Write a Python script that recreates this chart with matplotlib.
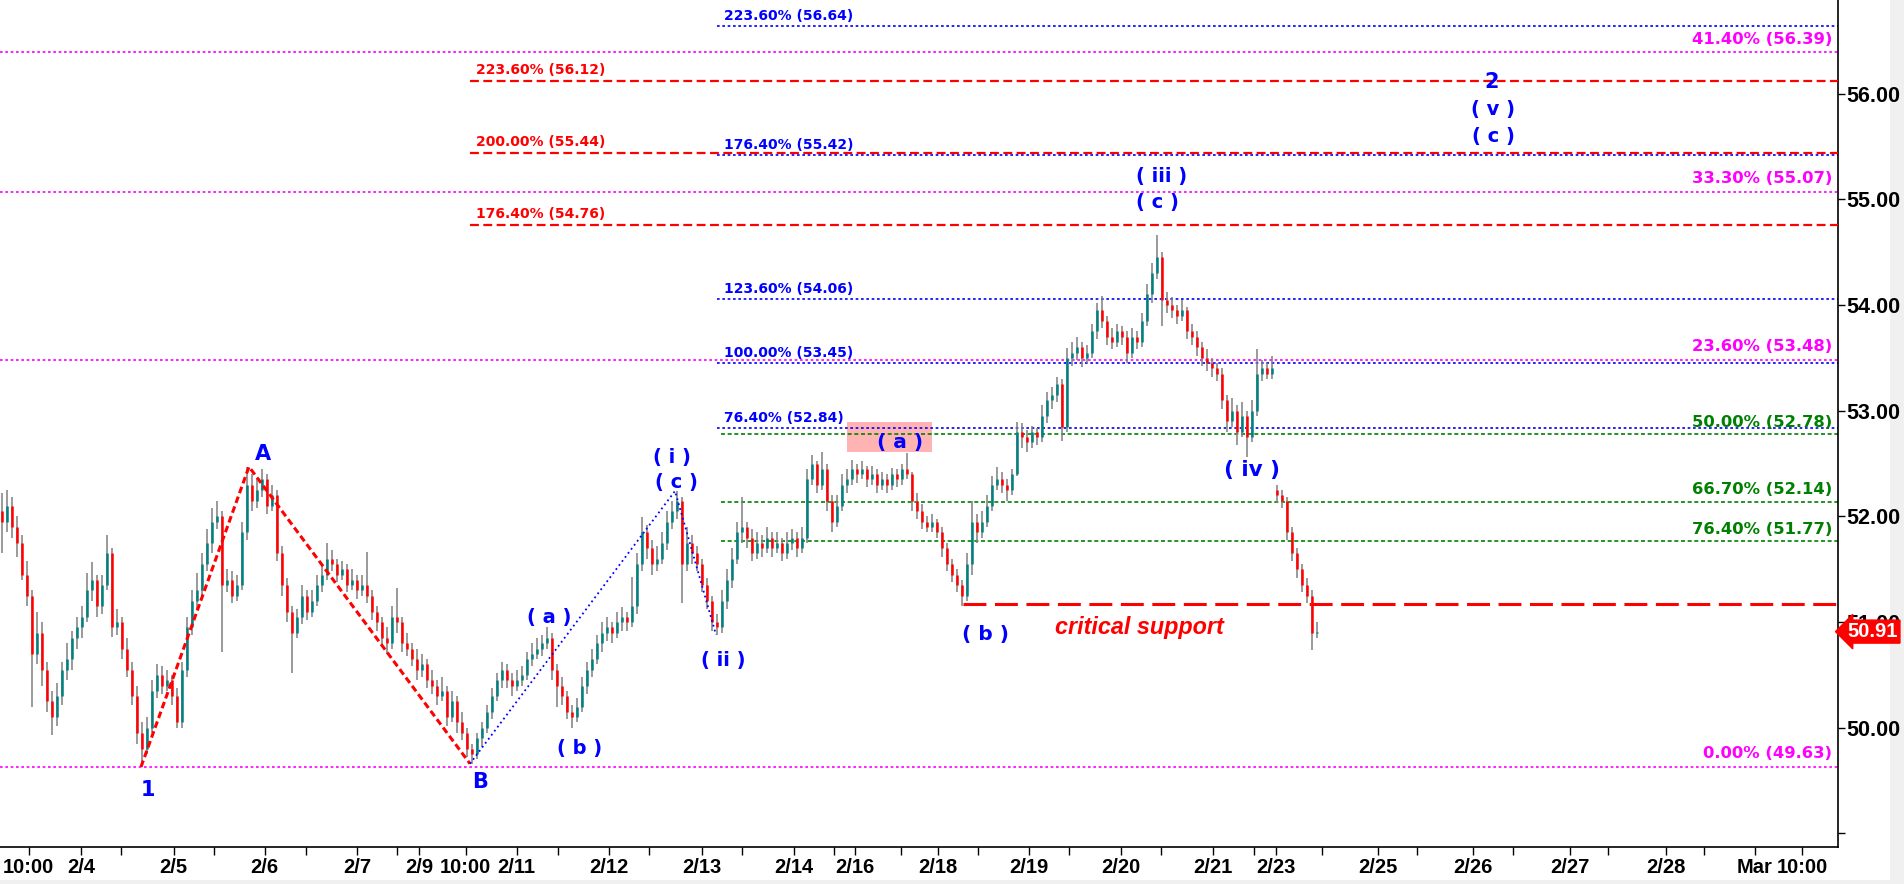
import matplotlib
matplotlib.use("Agg")
import matplotlib.pyplot as plt
import matplotlib.transforms as mtransforms
from matplotlib.patches import Rectangle
import numpy as np

# ---- price bars (one bar per slot) ----
opens = [
    52.05, 51.95, 52.10, 51.90, 51.75, 51.45, 51.25, 50.70, 50.90, 50.55,
    50.25, 50.10, 50.30, 50.55, 50.65, 50.85, 50.95, 51.05, 51.30, 51.40,
    51.15, 51.35, 51.65, 50.95, 51.00, 50.75, 50.55, 50.30, 49.95, 49.80,
    50.00, 50.35, 50.50, 50.40, 50.45, 50.30, 50.05, 50.55, 50.95, 51.20,
    51.30, 51.55, 51.75, 51.95, 52.00, 51.35, 51.40, 51.25, 51.35, 51.85,
    52.30, 52.15, 52.25, 52.35, 52.10, 52.20, 51.65, 51.35, 51.10, 50.90,
    51.05, 51.25, 51.10, 51.20, 51.35, 51.45, 51.60, 51.55, 51.45, 51.50,
    51.35, 51.40, 51.30, 51.35, 51.25, 51.10, 51.00, 50.85, 50.80, 51.05,
    51.00, 50.80, 50.75, 50.65, 50.55, 50.60, 50.45, 50.40, 50.30, 50.35,
    50.10, 50.25, 50.05, 49.95, 49.80, 49.75, 49.90, 50.00, 50.15, 50.30,
    50.45, 50.55, 50.45, 50.40, 50.45, 50.50, 50.65, 50.70, 50.75, 50.80,
    50.85, 50.55, 50.40, 50.30, 50.15, 50.10, 50.20, 50.40, 50.55, 50.65,
    50.80, 50.90, 50.95, 50.90, 51.00, 51.05, 51.00, 51.15, 51.55, 51.85,
    51.70, 51.55, 51.60, 51.75, 51.95, 52.05, 52.15, 51.55, 51.75, 51.65,
    51.55, 51.35, 51.20, 51.00, 50.95, 51.20, 51.40, 51.60, 51.85, 51.90,
    51.80, 51.65, 51.75, 51.70, 51.80, 51.70, 51.75, 51.65, 51.75, 51.80,
    51.70, 51.80, 52.35, 52.50, 52.30, 52.45, 52.15, 51.95, 52.10, 52.30,
    52.35, 52.45, 52.40, 52.45, 52.35, 52.40, 52.30, 52.35, 52.30, 52.40,
    52.35, 52.45, 52.40, 52.15, 52.05, 51.95, 51.90, 51.95, 51.85, 51.70,
    51.55, 51.45, 51.35, 51.25, 51.55, 51.95, 51.85, 51.95, 52.10, 52.30,
    52.35, 52.30, 52.25, 52.40, 52.80, 52.75, 52.70, 52.80, 52.75, 52.95,
    53.10, 53.15, 53.25, 52.85, 53.50, 53.55, 53.60, 53.50, 53.55, 53.75,
    53.95, 53.85, 53.70, 53.65, 53.75, 53.70, 53.55, 53.70, 53.65, 53.85,
    54.10, 54.30, 54.45, 54.05, 54.00, 53.95, 53.90, 53.95, 53.75, 53.70,
    53.60, 53.50, 53.45, 53.40, 53.35, 53.10, 52.90, 53.00, 52.80, 52.95,
    52.75, 53.00, 53.35, 53.40, 53.35, 52.25, 52.20, 52.15, 51.85, 51.65,
    51.50, 51.35, 51.25, 50.90,
]
highs = [
    52.22, 52.25, 52.18, 52.00, 51.82, 51.58, 51.30, 51.10, 51.00, 50.62,
    50.35, 50.42, 50.62, 50.80, 50.92, 51.05, 51.15, 51.46, 51.57, 51.45,
    51.45, 51.82, 51.70, 51.12, 51.05, 50.85, 50.62, 50.40, 50.05, 50.10,
    50.45, 50.60, 50.58, 50.55, 50.50, 50.38, 50.62, 51.05, 51.30, 51.46,
    51.65, 51.88, 52.08, 52.15, 52.05, 51.50, 51.48, 51.45, 51.95, 52.47,
    52.40, 52.35, 52.45, 52.40, 52.30, 52.25, 51.72, 51.42, 51.15, 51.12,
    51.35, 51.30, 51.30, 51.45, 51.55, 51.75, 51.68, 51.60, 51.58, 51.55,
    51.50, 51.45, 51.45, 51.66, 51.30, 51.15, 51.05, 50.95, 51.15, 51.32,
    51.05, 50.90, 50.80, 50.75, 50.70, 50.65, 50.55, 50.45, 50.48, 50.40,
    50.35, 50.30, 50.15, 50.00, 49.85, 49.95, 50.05, 50.22, 50.38, 50.52,
    50.62, 50.60, 50.52, 50.55, 50.58, 50.72, 50.80, 50.85, 50.88, 50.95,
    50.90, 50.60, 50.48, 50.35, 50.22, 50.28, 50.48, 50.62, 50.75, 50.88,
    51.00, 51.05, 51.00, 51.10, 51.14, 51.10, 51.43, 51.65, 51.99, 51.92,
    51.78, 51.72, 51.85, 52.05, 52.15, 52.24, 52.18, 51.90, 51.82, 51.72,
    51.60, 51.42, 51.25, 51.08, 51.30, 51.50, 51.70, 51.95, 52.18, 51.95,
    51.88, 51.85, 51.82, 51.90, 51.85, 51.85, 51.80, 51.85, 51.88, 51.85,
    51.90, 52.45, 52.58, 52.52, 52.61, 52.50, 52.20, 52.20, 52.40, 52.45,
    52.53, 52.50, 52.52, 52.48, 52.48, 52.45, 52.42, 52.40, 52.46, 52.45,
    52.50, 52.60, 52.42, 52.22, 52.12, 52.00, 52.02, 51.98, 51.90, 51.75,
    51.60, 51.50, 51.40, 51.65, 52.15, 52.02, 52.05, 52.20, 52.38, 52.47,
    52.42, 52.35, 52.45, 52.89, 52.88, 52.82, 52.86, 52.84, 53.05, 53.18,
    53.22, 53.32, 53.30, 53.59, 53.65, 53.70, 53.65, 53.62, 53.82, 54.02,
    54.09, 53.90, 53.78, 53.82, 53.80, 53.75, 53.78, 53.75, 53.92, 54.20,
    54.40, 54.66, 54.50, 54.12, 54.08, 54.00, 54.05, 53.98, 53.82, 53.75,
    53.65, 53.58, 53.50, 53.45, 53.40, 53.15, 53.12, 53.05, 53.08, 53.00,
    53.10, 53.58, 53.48, 53.45, 53.52, 52.30, 52.25, 52.18, 51.90, 51.70,
    51.55, 51.42, 51.30, 51.00,
]
lows = [
    51.65, 51.85, 51.80, 51.62, 51.40, 51.15, 50.20, 50.60, 50.40, 50.15,
    49.93, 50.02, 50.22, 50.45, 50.55, 50.75, 50.85, 51.00, 51.20, 51.05,
    51.08, 51.30, 50.86, 50.88, 50.65, 50.48, 50.22, 49.85, 49.65, 49.75,
    49.95, 50.28, 50.32, 50.35, 50.22, 50.00, 50.00, 50.48, 50.88, 51.12,
    51.22, 51.48, 51.65, 51.88, 50.72, 51.28, 51.18, 51.20, 51.30, 51.78,
    52.05, 52.08, 52.18, 52.02, 52.05, 51.58, 51.25, 51.00, 50.52, 50.85,
    50.98, 51.02, 51.05, 51.15, 51.28, 51.40, 51.48, 51.38, 51.40, 51.28,
    51.30, 51.22, 51.25, 51.18, 51.02, 50.92, 50.78, 50.70, 50.75, 50.90,
    50.72, 50.68, 50.58, 50.45, 50.48, 50.38, 50.32, 50.22, 50.25, 50.02,
    50.05, 49.95, 49.88, 49.72, 49.66, 49.70, 49.82, 49.95, 50.08, 50.25,
    50.38, 50.38, 50.30, 50.35, 50.40, 50.45, 50.58, 50.65, 50.68, 50.75,
    50.45, 50.20, 50.22, 50.08, 50.00, 50.05, 50.15, 50.32, 50.48, 50.60,
    50.72, 50.82, 50.80, 50.85, 50.92, 50.92, 50.95, 51.08, 51.48, 51.60,
    51.45, 51.48, 51.55, 51.68, 51.88, 51.98, 51.18, 51.48, 51.55, 51.48,
    51.28, 51.12, 50.92, 50.88, 50.90, 51.12, 51.32, 51.55, 51.75, 51.70,
    51.58, 51.60, 51.62, 51.65, 51.62, 51.65, 51.58, 51.60, 51.68, 51.62,
    51.65, 51.75, 52.30, 52.22, 52.25, 52.05, 51.85, 51.90, 52.05, 52.22,
    52.30, 52.32, 52.35, 52.28, 52.30, 52.22, 52.25, 52.22, 52.25, 52.28,
    52.30, 52.35, 52.05, 51.98, 51.88, 51.85, 51.85, 51.80, 51.62, 51.48,
    51.38, 51.28, 51.15, 51.20, 51.45, 51.75, 51.80, 51.90, 52.05, 52.25,
    52.22, 52.15, 52.20, 52.38, 52.65, 52.61, 52.65, 52.68, 52.70, 52.88,
    53.02, 53.08, 52.71, 52.80, 53.42, 53.48, 53.41, 53.45, 53.50, 53.68,
    53.78, 53.62, 53.58, 53.60, 53.62, 53.45, 53.50, 53.58, 53.60, 53.80,
    54.02, 54.25, 53.80, 53.92, 53.88, 53.82, 53.85, 53.68, 53.62, 53.52,
    53.42, 53.38, 53.32, 53.28, 53.02, 52.80, 52.85, 52.68, 52.75, 52.56,
    52.70, 52.95, 53.28, 53.30, 53.30, 52.13, 52.08, 51.78, 51.58, 51.42,
    51.28, 51.18, 50.74, 50.85,
]
closes = [
    51.95, 52.10, 51.90, 51.75, 51.45, 51.25, 50.70, 50.90, 50.55, 50.25,
    50.10, 50.30, 50.55, 50.65, 50.85, 50.95, 51.05, 51.30, 51.40, 51.15,
    51.35, 51.65, 50.95, 51.00, 50.75, 50.55, 50.30, 49.95, 49.80, 50.00,
    50.35, 50.50, 50.40, 50.45, 50.30, 50.05, 50.55, 50.95, 51.20, 51.30,
    51.55, 51.75, 51.95, 52.00, 51.35, 51.40, 51.25, 51.35, 51.85, 52.30,
    52.15, 52.25, 52.35, 52.10, 52.20, 51.65, 51.35, 51.10, 50.90, 51.05,
    51.25, 51.10, 51.20, 51.35, 51.45, 51.60, 51.55, 51.45, 51.50, 51.35,
    51.40, 51.30, 51.35, 51.25, 51.10, 51.00, 50.85, 50.80, 51.05, 51.00,
    50.80, 50.75, 50.65, 50.55, 50.60, 50.45, 50.40, 50.30, 50.35, 50.10,
    50.25, 50.05, 49.95, 49.80, 49.75, 49.90, 50.00, 50.15, 50.30, 50.45,
    50.55, 50.45, 50.40, 50.45, 50.50, 50.65, 50.70, 50.75, 50.80, 50.85,
    50.55, 50.40, 50.30, 50.15, 50.10, 50.20, 50.40, 50.55, 50.65, 50.80,
    50.90, 50.95, 50.90, 51.00, 51.05, 51.00, 51.15, 51.55, 51.85, 51.70,
    51.55, 51.60, 51.75, 51.95, 52.05, 52.15, 51.55, 51.75, 51.65, 51.55,
    51.35, 51.20, 51.00, 50.95, 51.20, 51.40, 51.60, 51.85, 51.90, 51.80,
    51.65, 51.75, 51.70, 51.80, 51.70, 51.75, 51.65, 51.75, 51.80, 51.70,
    51.80, 52.35, 52.50, 52.30, 52.45, 52.15, 51.95, 52.10, 52.30, 52.35,
    52.45, 52.40, 52.45, 52.35, 52.40, 52.30, 52.35, 52.30, 52.40, 52.35,
    52.45, 52.40, 52.15, 52.05, 51.95, 51.90, 51.95, 51.85, 51.70, 51.55,
    51.45, 51.35, 51.25, 51.55, 51.95, 51.85, 51.95, 52.10, 52.30, 52.35,
    52.30, 52.25, 52.40, 52.80, 52.75, 52.70, 52.80, 52.75, 52.95, 53.10,
    53.15, 53.25, 52.85, 53.50, 53.55, 53.60, 53.50, 53.55, 53.75, 53.95,
    53.85, 53.70, 53.65, 53.75, 53.70, 53.55, 53.70, 53.65, 53.85, 54.10,
    54.30, 54.45, 54.05, 54.00, 53.95, 53.90, 53.95, 53.75, 53.70, 53.60,
    53.50, 53.45, 53.40, 53.35, 53.10, 52.90, 53.00, 52.80, 52.95, 52.75,
    53.00, 53.35, 53.40, 53.35, 53.40, 52.20, 52.15, 51.85, 51.65, 51.50,
    51.35, 51.25, 50.90, 50.91,
]

# ---- fibonacci levels ----
magenta_levels = [56.39, 55.07, 53.48, 49.63]
magenta_pcts = ["41.40%", "33.30%", "23.60%", "0.00%"]
blue_levels = [56.64, 55.42, 54.06, 53.45, 52.84]
blue_pcts = ["223.60%", "176.40%", "123.60%", "100.00%", "76.40%"]
red_levels = [56.12, 55.44, 54.76]
red_pcts = ["223.60%", "200.00%", "176.40%"]
green_levels = [52.78, 52.14, 51.77]
green_pcts = ["50.00%", "66.70%", "76.40%"]
critical_support = 51.17
last_price = 50.91

# wave pivots (bar, price)
abc_bars = [27.8, 49.4, 93.6]
abc_prices = [49.63, 52.47, 49.66]
wave_i_bars = [93.6, 134.6, 142.8]
wave_i_prices = [49.66, 52.24, 50.88]

# time axis (bar positions)
date_ticks = [5.34, 15.8, 34.3, 52.54, 71.0, 83.4, 92.72, 102.92, 121.4,
              139.9, 158.4, 170.52, 187.1, 205.36, 223.8, 242.2, 254.7,
              275.1, 294.12, 313.5, 332.74, 350.6, 360.0]
date_labels = ["10:00", "2/4", "2/5", "2/6", "2/7", "2/9", "10:00", "2/11",
               "2/12", "2/13", "2/14", "2/16", "2/18", "2/19", "2/20",
               "2/21", "2/23", "2/25", "2/26", "2/27", "2/28", "Mar",
               "10:00"]
minor_ticks = [23.8, 42.32, 60.8, 78.94, 111.2, 129.4, 147.94, 166.3, 179.8,
               195.14, 213.4, 231.8, 250.32, 263.92, 282.94, 302.2, 321.2,
               340.4]
price_ticks = [49, 50, 51, 52, 53, 54, 55, 56]

BLUE = "#0000ff"
MAGENTA = "#ff00ff"
GREEN = "#008000"
RED = "#ff0000"
LBL = ["DejaVu Sans"]
AX = ["Liberation Sans", "DejaVu Sans"]

fig = plt.figure(figsize=(19.04, 8.84), dpi=100)
fig.patch.set_facecolor("white")
ax = fig.add_axes([0, 37 / 884, 1838 / 1904, 847 / 884])
ax.set_xlim(-0.4, 367.2)
ax.set_ylim(48.872, 56.886)

o = np.array(opens)
h = np.array(highs)
lo = np.array(lows)
c = np.array(closes)
x = np.arange(len(c))
up = c >= o

# candles
ax.vlines(x, lo, h, color="#7f7f7f", lw=1.1, zorder=4)
ax.vlines(x[up], o[up], c[up], color="#008080", lw=1.8, zorder=5)
ax.vlines(x[~up], c[~up], o[~up], color=RED, lw=1.8, zorder=5)

xmax = ax.get_xlim()[1]
dot = (0, (1.6, 1.6))

# fib lines + labels
for lev, pct in zip(magenta_levels, magenta_pcts):
    ax.hlines(lev, -0.4, xmax, color=MAGENTA, lw=1.2, linestyle=dot, zorder=2)
    ax.annotate(f"{pct} ({lev:.2f})", (366.0, lev), xytext=(0, 4),
                textcoords="offset points", ha="right", va="bottom",
                color=MAGENTA, fontsize=11.8, fontweight="bold", family=LBL)
for lev, pct in zip(blue_levels, blue_pcts):
    ax.hlines(lev, 143.0, xmax, color=BLUE, lw=1.2, linestyle=dot, zorder=2)
    ax.annotate(f"{pct} ({lev:.2f})", (144.4, lev), xytext=(0, 2),
                textcoords="offset points", ha="left", va="bottom",
                color=BLUE, fontsize=10, fontweight="bold", family=LBL)
for lev, pct in zip(green_levels, green_pcts):
    ax.hlines(lev, 143.8, xmax, color=GREEN, lw=1.2,
              linestyle=(0, (2.4, 1.6)), zorder=2)
    ax.annotate(f"{pct} ({lev:.2f})", (366.0, lev), xytext=(0, 3),
                textcoords="offset points", ha="right", va="bottom",
                color=GREEN, fontsize=11.8, fontweight="bold", family=LBL)
for lev, pct in zip(red_levels, red_pcts):
    ax.hlines(lev, 93.6, xmax, color=RED, lw=1.6,
              linestyle=(0, (4, 2)), zorder=3)
    ax.annotate(f"{pct} ({lev:.2f})", (94.8, lev), xytext=(0, 3),
                textcoords="offset points", ha="left", va="bottom",
                color=RED, fontsize=10, fontweight="bold", family=LBL)

# critical support
ax.hlines(critical_support, 192.2, xmax, color=RED, lw=2.2,
          linestyle=(0, (7.5, 2.8)), zorder=3)
ax.text(227.4, 50.95, "critical support", color=RED, fontsize=16.8,
        fontweight="bold", fontstyle="italic", family=AX,
        ha="center", va="center")

# target box for (a)
ax.add_patch(Rectangle((169.0, 52.61), 17.0, 0.28, facecolor="#ffb3b3",
                       edgecolor="none", zorder=1))

# wave lines
ax.plot(abc_bars, abc_prices, color=RED, lw=2.2,
        linestyle=(0, (2.2, 1.2)), zorder=6)
ax.plot(wave_i_bars, wave_i_prices, color=BLUE, lw=1.3,
        linestyle=(0, (1, 1.8)), zorder=6)

# wave labels
labels = [
    ("1", 29.2, 49.41, 15), ("A", 52.2, 52.59, 15), ("B", 95.6, 49.49, 15),
    ("( a )", 109.4, 51.04, 14), ("( b )", 115.6, 49.80, 14),
    ("( i )", 134.0, 52.56, 14), ("( c )", 134.8, 52.32, 14),
    ("( ii )", 144.2, 50.64, 14), ("( a )", 179.6, 52.70, 14.5),
    ("( b )", 196.8, 50.88, 14.5), ("( iii )", 232.0, 55.22, 14),
    ("( c )", 231.0, 54.97, 14), ("( iv )", 250.0, 52.44, 15.5),
    ("2", 298.0, 56.11, 15), ("( v )", 298.2, 55.85, 14),
    ("( c )", 298.2, 55.59, 14),
]
for txt, bx, py, fs in labels:
    ax.text(bx, py, txt, color=BLUE, fontsize=fs, fontweight="bold",
            family=LBL, ha="center", va="center", zorder=7)

# axes styling
for side in ("top", "left"):
    ax.spines[side].set_visible(False)
ax.spines["right"].set_linewidth(1.2)
ax.spines["bottom"].set_linewidth(1.2)
ax.yaxis.tick_right()
ax.set_yticks(price_ticks)
ax.set_yticklabels([""] + [f"{p:.2f}" for p in price_ticks[1:]])
ax.set_xticks(date_ticks)
ax.set_xticklabels(date_labels)
ax.set_xticks(minor_ticks, minor=True)
ax.tick_params(axis="y", which="both", direction="out", length=5, width=1,
               pad=1, labelsize=15.5)
ax.tick_params(axis="x", which="both", direction="out", length=6, width=1,
               pad=2, labelsize=14.5)
for lab in ax.get_xticklabels() + ax.get_yticklabels():
    lab.set_fontweight("bold")
    lab.set_family(AX)

# last price flag
trans = mtransforms.blended_transform_factory(ax.transAxes, ax.transData)
ax.text(1.0052, last_price, f"{last_price:.2f}", transform=trans,
        ha="left", va="center", color="white", fontsize=14.5,
        fontweight="bold", family=AX, clip_on=False, zorder=10,
        bbox=dict(boxstyle="larrow,pad=0.1", fc=RED, ec=RED))

# window chrome (kept behind the axes content)
fig.patches.append(Rectangle((1890 / 1904, 0), 14 / 1904, 1,
                             transform=fig.transFigure, facecolor="#f0f0f0",
                             edgecolor="none", zorder=-5))
fig.patches.append(Rectangle((0, 0), 1, 4 / 884, transform=fig.transFigure,
                             facecolor="#f0f0f0", edgecolor="none",
                             zorder=-5))
fig.patches.append(Rectangle((0, 422 / 884), 8 / 1904, 110 / 884,
                             transform=fig.transFigure, facecolor="#8c8c8c",
                             edgecolor="none", zorder=-5))

fig.savefig("out.png", dpi=100)
